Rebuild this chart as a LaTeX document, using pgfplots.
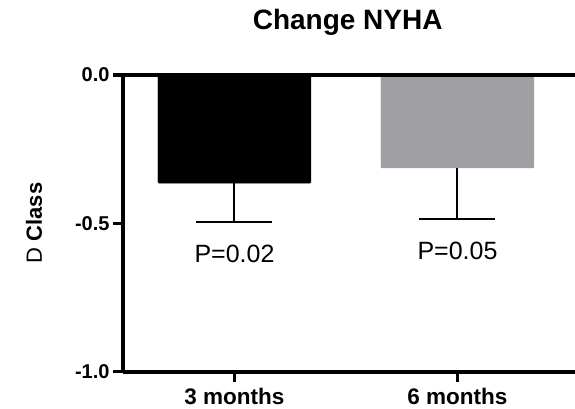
\documentclass[border=0pt]{standalone}
\usepackage{fontspec}
\setmainfont{Liberation Sans}
\usepackage{pgfplots}
\pgfplotsset{compat=1.18}
\definecolor{barg}{RGB}{160,160,164}
\begin{document}
\begin{tikzpicture}
\useasboundingbox (0,0) rectangle (575pt,409pt);
\begin{axis}[
  at={(123pt,37pt)}, anchor=south west,
  scale only axis, width=452pt, height=297pt,
  xmin=0.5, xmax=2.527, ymin=-1, ymax=0,
  axis x line*=bottom, axis y line*=left,
  axis line style={line width=3.5pt,-},
  xtick={1,2}, xticklabels={3 months,6 months},
  ytick={-1,-0.5,0}, yticklabels={-1.0,-0.5,0.0},
  tick align=outside, major tick length=10pt,
  tick style={line width=3pt, black},
  xticklabel style={font=\fontsize{22.5}{24}\selectfont\bfseries, anchor=base, inner ysep=0pt, yshift=-22pt},
  yticklabel style={font=\fontsize{20}{22}\selectfont\bfseries},
  ybar, bar width=153pt,
  clip=false,
]
\addplot[fill=black, draw=black, bar shift=0pt, rounded corners=1pt,
  error bars/.cd, y dir=minus, y explicit,
  error bar style={line width=2pt, black},
  error mark options={rotate=90, line width=2.5pt, mark size=38pt, black}]
  coordinates {(1,-0.364) +- (0,0.131)};
\addplot[fill=barg, draw=barg, bar shift=0pt, rounded corners=1pt,
  error bars/.cd, y dir=minus, y explicit,
  error bar style={line width=2pt, black},
  error mark options={rotate=90, line width=2.5pt, mark size=38pt, black}]
  coordinates {(2,-0.313) +- (0,0.172)};
\draw[line width=3.5pt] ([xshift=-10pt]rel axis cs:0,1) -- (rel axis cs:1,1);
\node[anchor=base, font=\fontsize{25}{27}\selectfont] at (axis cs:1,-0.633) {P=0.02};
\node[anchor=base, font=\fontsize{25}{27}\selectfont] at (axis cs:2,-0.6205) {P=0.05};
\end{axis}
\node[anchor=base, font=\fontsize{28}{30}\selectfont\bfseries] at (347.7pt,379.7pt) {Change NYHA};
\node[rotate=90, anchor=center, font=\fontsize{22}{24}\selectfont] at (34pt,186pt) {D \textbf{Class}};
\end{tikzpicture}
\end{document}
